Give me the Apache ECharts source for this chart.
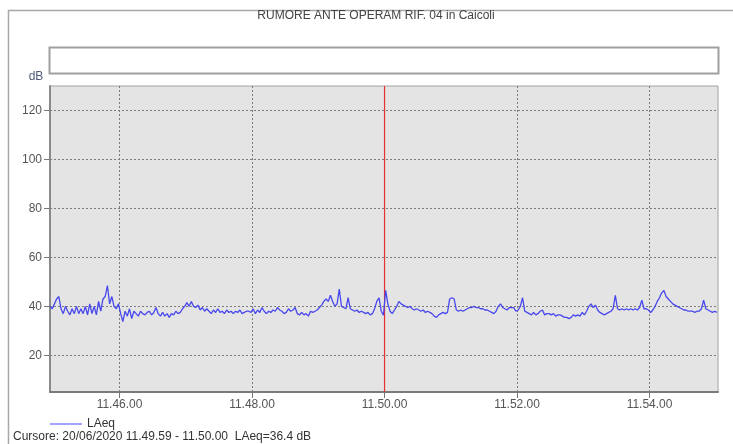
<!DOCTYPE html>
<html>
<head>
<meta charset="utf-8">
<script src="https://cdn.jsdelivr.net/npm/echarts@6/dist/echarts.min.js"></script>
<style>
  html, body { margin: 0; padding: 0; background: #ffffff; }
  #chart { width: 733px; height: 444px; }
</style>
</head>
<body>
<div id="chart"></div>
<script>
// ---- labels ----
const chartTitle = 'RUMORE ANTE OPERAM RIF. 04 in Caicoli';
const seriesName = 'LAeq';
const unitLabel = 'dB';
const cursorDate = '20/06/2020';
const cursorFrom = '11.49.59';
const cursorTo = '11.50.00';

// ---- axes ----
const xStart = '11.44.57';          // first sample / left edge
const xEnd = '11.55.02';            // right edge
const stepSec = 2;                  // sampling step of the level arrays
const xTickLabels = ['11.46.00', '11.48.00', '11.50.00', '11.52.00', '11.54.00'];
const yTickValues = [20, 40, 60, 80, 100, 120];
const yMin = 5;
const yMax = 130;

// ---- LAeq levels (dB), one value every 2 s, one array per minute from 11.44.57 ----
const laeq1 = [40, 39, 41, 43, 44, 39, 37, 40, 38, 36.5, 39, 37, 40, 37, 39, 37, 40, 36.5, 41, 37, 40, 36.5, 42, 38, 43, 44, 48.5, 41, 44, 40];
const laeq2 = [39, 41, 37, 33.8, 38, 36, 39, 35, 38, 37, 36, 38, 37, 36.5, 37.5, 38, 36.5, 37.5, 39.5, 37, 36, 37.5, 36, 37, 35.5, 37, 36.5, 38, 37, 37.5];
const laeq3 = [39, 40, 41.5, 40, 42, 40, 39.5, 40.5, 38.5, 39.5, 38, 39, 38, 37, 38.5, 37.5, 39, 37.5, 38, 37, 38.5, 37.5, 38, 37, 38, 37.5, 38.5, 37, 37.5, 38];
const laeq4 = [38, 37.5, 39, 37, 38.5, 37.5, 39.5, 38, 37, 38, 37.5, 38.5, 38, 39.5, 38.5, 38, 37, 37.5, 39, 38, 38.5, 39.5, 37, 36.5, 37.5, 36.5, 37, 36, 38, 37.5];
const laeq5 = [38, 38.5, 39.5, 40.5, 42, 43, 42, 44.5, 42, 40, 41, 47, 40, 39.5, 39, 43.5, 39, 38.5, 38, 38.5, 37.5, 38, 37.5, 37, 37.5, 36.5, 37, 39, 42, 43.5];
const laeq6 = [38, 36.4, 46.5, 41, 38, 37, 38.5, 40, 42, 41, 40.5, 40, 39.5, 40, 39, 38.5, 39, 38.5, 38, 38.5, 37.5, 38, 37.5, 37, 36, 35.5, 36.5, 37, 37.5, 37];
const laeq7 = [37.5, 43, 43.5, 43, 38.5, 38, 38.5, 38, 38.5, 39, 39.5, 39.5, 40, 39.5, 39.5, 39, 39, 38.5, 38.5, 38, 37.5, 37, 38, 40, 41, 39.5, 39, 38.5, 39.5, 39.5];
const laeq8 = [39.5, 38, 38.5, 40, 43.5, 38, 37.5, 37, 36.5, 37.5, 36.5, 37, 38, 38.5, 36.5, 37, 37, 36.5, 37, 36, 36.5, 36.5, 36, 35.5, 35.5, 35, 35.5, 36.5, 36, 36.5];
const laeq9 = [36, 37.5, 36.5, 38, 40, 41, 39.5, 40.5, 38.5, 37.5, 37, 36.5, 37, 37.5, 38, 39, 44.5, 39, 38.5, 39, 38.5, 39, 38.5, 39, 38.5, 39, 38.5, 39.5, 42.5, 39];
const laeq10 = [39, 38.5, 37.5, 38.5, 40, 42, 43.5, 45.5, 46.5, 44, 43, 42, 41, 40.5, 40, 39.5, 39, 38.5, 38.5, 38, 38, 38, 37.5, 38, 38, 39, 42.5, 39, 38.5, 38];
const laeq11 = [37.5, 38, 37.5];

// ---- helpers ----
function toSec(s) {
  const p = s.split('.').map(Number);
  return p[0] * 3600 + p[1] * 60 + p[2];
}
function pad(n) { return (n < 10 ? '0' : '') + n; }
function fmtSec(v) {
  const h = Math.floor(v / 3600), m = Math.floor((v % 3600) / 60), s = Math.round(v % 60);
  return h + '.' + pad(m) + '.' + pad(s);
}

const levels = [].concat(laeq1, laeq2, laeq3, laeq4, laeq5, laeq6, laeq7, laeq8, laeq9, laeq10, laeq11);
const t0 = toSec(xStart);
const points = levels.map((v, i) => [t0 + i * stepSec, v]);

const cursorSec = toSec(cursorTo);
const cursorPoint = points.find(p => p[0] === toSec(cursorFrom));
const cursorText = 'Cursore: ' + cursorDate + ' ' + cursorFrom + ' - ' + cursorTo +
  '  ' + seriesName + '=' + cursorPoint[1].toFixed(1) + ' ' + unitLabel;

const FONT = 'Liberation Sans, Arial, sans-serif';
const gridLine = { color: '#7c7c7c', width: 1, type: [2, 2] };
const CURSOR_RED = '#e8302c';

const chart = echarts.init(document.getElementById('chart'), null, { renderer: 'canvas' });
chart.setOption({
  animation: false,
  backgroundColor: '#ffffff',
  grid: {
    left: 50, right: 15, top: 86, bottom: 52,
    show: true, backgroundColor: '#e4e4e4',
    borderColor: '#a2a2a2', borderWidth: 1
  },
  legend: {
    left: 45, top: 413,
    icon: 'rect', itemWidth: 32, itemHeight: 1.5, itemGap: 10,
    textStyle: { color: '#333', fontSize: 12, fontFamily: FONT },
    data: [{ name: seriesName, itemStyle: { color: '#8585ff' } }]
  },
  xAxis: {
    type: 'value',
    min: t0, max: toSec(xEnd),
    axisLine: { show: true, onZero: false, lineStyle: { color: '#7a7a7a', width: 2 } },
    axisTick: { show: true, length: 6, customValues: xTickLabels.map(toSec),
      lineStyle: { color: '#777', width: 1 } },
    axisLabel: { customValues: xTickLabels.map(toSec), formatter: v => fmtSec(v),
      color: '#555', fontSize: 12, fontFamily: FONT, margin: 7 },
    splitLine: { show: true, lineStyle: gridLine }
  },
  yAxis: {
    type: 'value',
    min: yMin, max: yMax,
    axisLine: { show: true, onZero: false, lineStyle: { color: '#8a8a8a', width: 2 } },
    axisTick: { show: true, length: 6, customValues: yTickValues,
      lineStyle: { color: '#777', width: 1 } },
    axisLabel: { customValues: yTickValues, color: '#555', fontSize: 12,
      fontFamily: FONT, margin: 8 },
    splitLine: { show: true, lineStyle: gridLine }
  },
  series: [
    {
      // cursor position, spanning the full value range
      name: 'cursore',
      type: 'line',
      data: [[cursorSec, yMin], [cursorSec, yMax]],
      showSymbol: false,
      symbol: 'none',
      silent: true,
      z: 2,
      lineStyle: { color: CURSOR_RED, width: 1.2 },
      itemStyle: { color: CURSOR_RED }
    },
    {
      name: seriesName,
      type: 'line',
      data: points,
      showSymbol: false,
      symbol: 'none',
      z: 3,
      lineStyle: { color: '#4848ee', width: 1.3 },
      itemStyle: { color: '#4848ee' }
    }
  ],
  graphic: [
    // window frame
    { type: 'polyline', silent: true,
      shape: { points: [[8.5, 444], [8.5, 10.5], [733, 10.5]] },
      style: { stroke: '#a8a8a8', lineWidth: 1.5, fill: null } },
    // title
    { type: 'text', x: 376, y: 16, silent: true,
      style: { text: chartTitle, font: '12px ' + FONT, fill: '#444',
        align: 'center', verticalAlign: 'middle' } },
    // empty legend panel above the plot
    { type: 'rect', silent: true,
      shape: { x: 49.5, y: 47.5, width: 669, height: 26 },
      style: { fill: '#ffffff', stroke: '#a0a0a0', lineWidth: 2 } },
    // unit label
    { type: 'text', x: 36, y: 77, silent: true,
      style: { text: unitLabel, font: '12px ' + FONT, fill: '#4f5a78',
        align: 'center', verticalAlign: 'middle' } },
    // cursor readout
    { type: 'text', x: 13, y: 437, silent: true,
      style: { text: cursorText, font: '12px ' + FONT, fill: '#333',
        align: 'left', verticalAlign: 'middle' } }
  ]
});
</script>
</body>
</html>
